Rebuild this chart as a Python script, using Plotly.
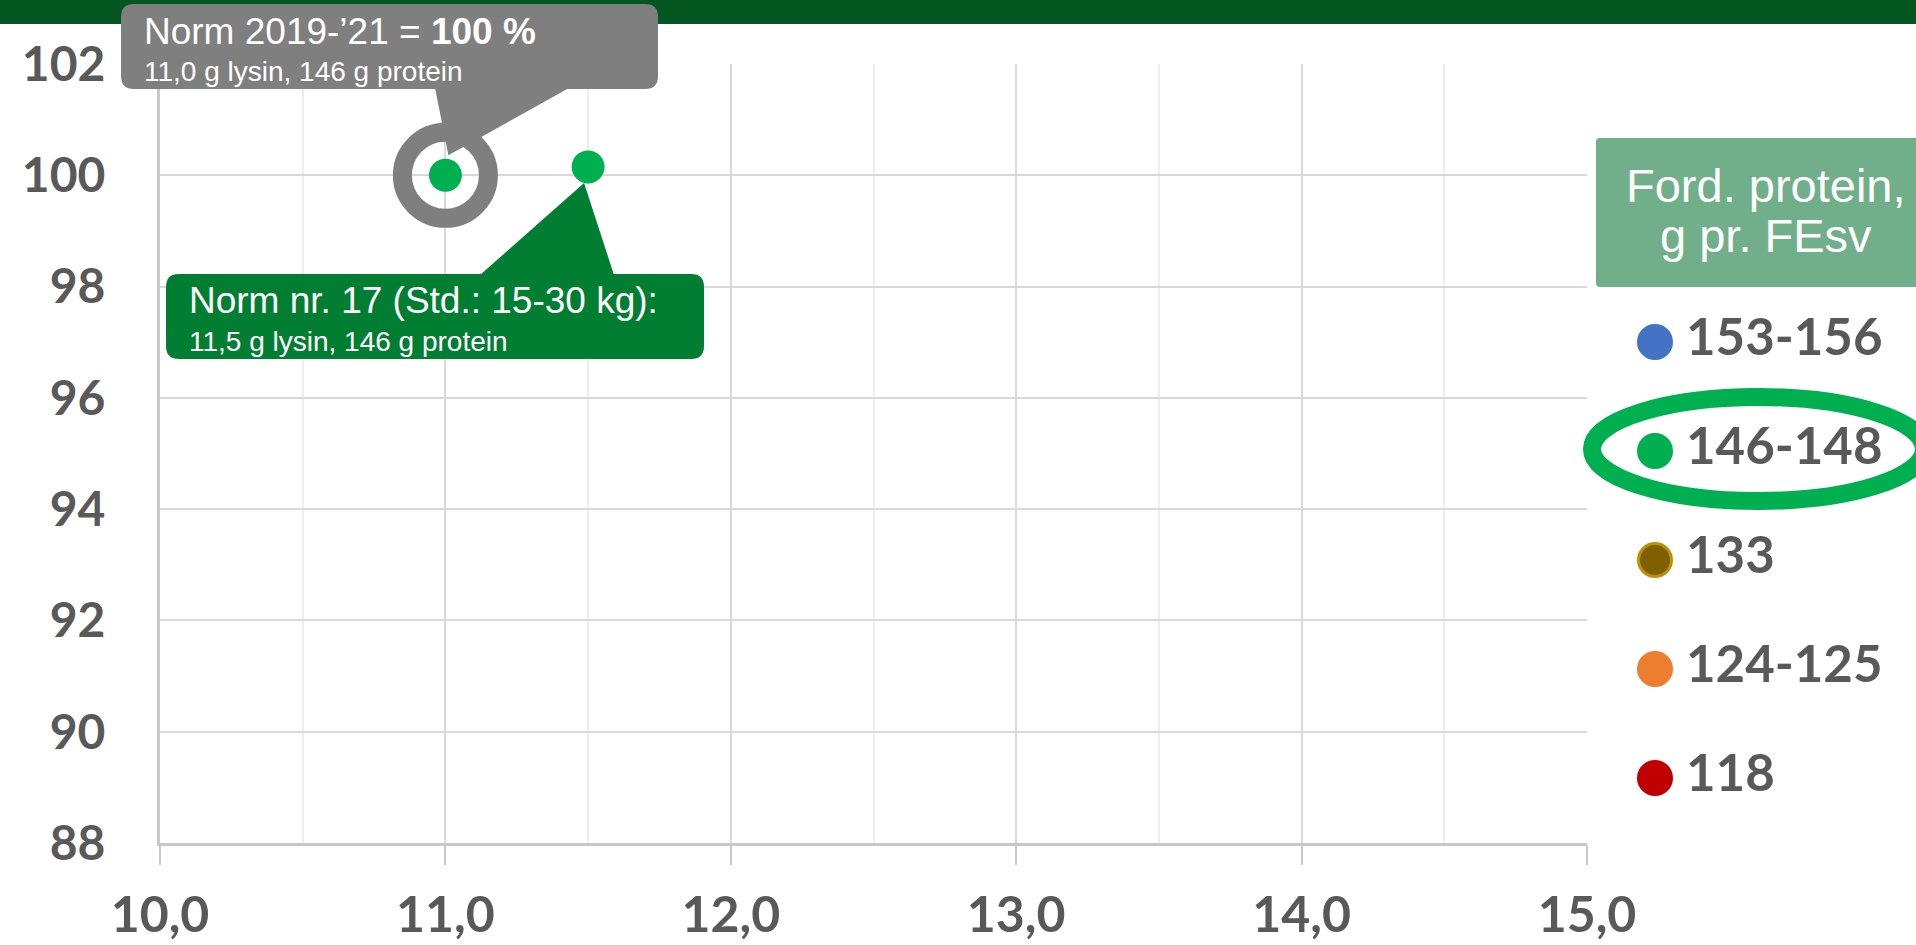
import plotly.graph_objects as go

# ---------------- data ----------------
categories = ["153-156", "146-148", "133", "124-125", "118"]
category_colors = ["#4472C4", "#00B050", "#7F6000", "#ED7D31", "#C00000"]
category_line_colors = ["#4472C4", "#00B050", "#BF9000", "#ED7D31", "#C00000"]

norm_names = ["Norm 2019-’21", "Norm nr. 17"]
lysin = [11.0, 11.5]          # g lysin pr. FEsv
index_pct = [100.0, 100.15]   # relative index (%)
protein = [146, 146]

x_ticks = [10, 11, 12, 13, 14, 15]
x_ticktext = ["10,0", "11,0", "12,0", "13,0", "14,0", "15,0"]
y_ticks = [88, 90, 92, 94, 96, 98, 100, 102]
y_ticktext = ["88", "90", "92", "94", "96", "98", "100", "102"]

legend_title = ["Ford. protein,", "g pr. FEsv"]

# ---------------- geometry ----------------
W, H = 1916, 945
PX0, PX1 = 160, 1587   # plot area x pixels (10 -> 15)
PY0, PY1 = 843, 64     # plot area y pixels (88 -> 102)
XMIN, XMAX = 10, 15
YMIN, YMAX = 88, 102


def fx(px):
    return px / W


def fy(py):
    return 1 - py / H


def dpx(x):
    return PX0 + (x - XMIN) / (XMAX - XMIN) * (PX1 - PX0)


def dpy(y):
    return PY0 - (y - YMIN) / (YMAX - YMIN) * (PY0 - PY1)


def rounded_rect(x0, y0, x1, y1, r):
    p = lambda x, y: f"{fx(x):.5f},{fy(y):.5f}"
    return (f"M {p(x0 + r, y0)} L {p(x1 - r, y0)} Q {p(x1, y0)} {p(x1, y0 + r)} "
            f"L {p(x1, y1 - r)} Q {p(x1, y1)} {p(x1 - r, y1)} "
            f"L {p(x0 + r, y1)} Q {p(x0, y1)} {p(x0, y1 - r)} "
            f"L {p(x0, y0 + r)} Q {p(x0, y0)} {p(x0 + r, y0)} Z")


def triangle(a, b, c):
    p = lambda q: f"{fx(q[0]):.5f},{fy(q[1]):.5f}"
    return f"M {p(a)} L {p(b)} L {p(c)} Z"


fig = go.Figure()

# gray ring around the reference norm
fig.add_trace(go.Scatter(
    x=[lysin[0]], y=[index_pct[0]], mode="markers",
    marker=dict(size=86, color="rgba(0,0,0,0)", line=dict(color="#7F7F7F", width=19)),
    hoverinfo="skip", showlegend=False, cliponaxis=False))

# data points (146-148 group)
fig.add_trace(go.Scatter(
    x=lysin, y=index_pct, mode="markers",
    marker=dict(size=33, color=category_colors[1], line=dict(width=0)),
    text=norm_names, name=categories[1], showlegend=False, cliponaxis=False))

# custom legend drawn on a helper axis pair
LEG_Y0, LEG_STEP = 342, 109
leg_idx = list(range(len(categories)))
fig.add_trace(go.Scatter(
    x=[1655] * len(categories), y=leg_idx, mode="markers",
    marker=dict(size=33, color=category_colors,
                line=dict(color=category_line_colors, width=3)),
    xaxis="x2", yaxis="y2", showlegend=False, hoverinfo="skip", cliponaxis=False))
fig.add_trace(go.Scatter(
    x=[1686] * len(categories), y=leg_idx, mode="text", text=categories,
    textposition="middle right",
    textfont=dict(family="Lato", size=51, color="#595959", weight="bold"),
    xaxis="x2", yaxis="y2", showlegend=False, hoverinfo="skip", cliponaxis=False))

shapes = []
# top banner
shapes.append(dict(type="rect", xref="paper", yref="paper", x0=0, x1=1, y0=fy(24), y1=1,
                   fillcolor="#03561F", line=dict(width=0), layer="above"))

# gray callout
p1x, p1y = dpx(lysin[0]), dpy(index_pct[0])
shapes.append(dict(type="path", xref="paper", yref="paper",
                   path=triangle((435, 88), (569, 88), (p1x + 3, p1y - 20)),
                   fillcolor="#7F7F7F", line=dict(width=0), layer="above"))
shapes.append(dict(type="path", xref="paper", yref="paper",
                   path=rounded_rect(121, 4, 658, 89, 13),
                   fillcolor="#7F7F7F", line=dict(width=0), layer="above"))

# green callout
p2x, p2y = dpx(lysin[1]), dpy(index_pct[1])
shapes.append(dict(type="path", xref="paper", yref="paper",
                   path=triangle((480, 275), (614, 275), (p2x - 4, p2y + 16)),
                   fillcolor="#027E33", line=dict(width=0), layer="above"))
shapes.append(dict(type="path", xref="paper", yref="paper",
                   path=rounded_rect(166, 274, 704, 359, 13),
                   fillcolor="#027E33", line=dict(width=0), layer="above"))

# legend title box
shapes.append(dict(type="path", xref="paper", yref="paper",
                   path=rounded_rect(1596, 138, 1940, 287, 4),
                   fillcolor="#71AE8A", line=dict(width=0), layer="above"))

# highlight ellipse
shapes.append(dict(type="circle", xref="paper", yref="paper",
                   x0=fx(1592), x1=fx(1924), y0=fy(501), y1=fy(397),
                   line=dict(color="#00B050", width=18), fillcolor="rgba(0,0,0,0)", layer="above"))

annotations = []
f_big = dict(family="Liberation Sans", size=37, color="white")
f_small = dict(family="Liberation Sans", size=28, color="white")
annotations.append(dict(xref="paper", yref="paper", x=fx(142), y=fy(31), xanchor="left", yanchor="middle",
                        text=f"{norm_names[0]} = <b>100 %</b>", showarrow=False, font=f_big))
annotations.append(dict(xref="paper", yref="paper", x=fx(142), y=fy(72), xanchor="left", yanchor="middle",
                        text=f"{lysin[0]:.1f}".replace(".", ",") + f" g lysin, {protein[0]} g protein",
                        showarrow=False, font=f_small))
annotations.append(dict(xref="paper", yref="paper", x=fx(187), y=fy(300), xanchor="left", yanchor="middle",
                        text=f"{norm_names[1]} (Std.: 15-30 kg):", showarrow=False, font=f_big))
annotations.append(dict(xref="paper", yref="paper", x=fx(187), y=fy(341), xanchor="left", yanchor="middle",
                        text=f"{lysin[1]:.1f}".replace(".", ",") + f" g lysin, {protein[1]} g protein",
                        showarrow=False, font=f_small))
f_title = dict(family="Liberation Sans", size=47, color="white")
annotations.append(dict(xref="paper", yref="paper", x=fx(1766), y=fy(185), xanchor="center", yanchor="middle",
                        text=legend_title[0], showarrow=False, font=f_title))
annotations.append(dict(xref="paper", yref="paper", x=fx(1766), y=fy(236), xanchor="center", yanchor="middle",
                        text=legend_title[1], showarrow=False, font=f_title))

x_tick_font = dict(family="Lato", size=50, color="#595959", weight="bold")
y_tick_font = dict(family="Lato", size=48, color="#595959", weight="bold")

fig.update_layout(
    width=W, height=H,
    margin=dict(l=0, r=0, t=0, b=0),
    paper_bgcolor="white", plot_bgcolor="rgba(0,0,0,0)",
    showlegend=False,
    shapes=shapes, annotations=annotations,
    xaxis=dict(domain=[fx(PX0), fx(PX1)], range=[XMIN, XMAX], anchor="y",
               tickvals=x_ticks, ticktext=x_ticktext, tickfont=x_tick_font,
               showgrid=True, gridcolor="#D9D9D9", gridwidth=2,
               minor=dict(dtick=0.5, tick0=10, showgrid=True, gridcolor="#EEEEEE", gridwidth=2, ticks=""),
               ticks="outside", ticklen=19, tickwidth=2, tickcolor="#C8C8C8",
               showline=True, linecolor="#C8C8C8", linewidth=3,
               zeroline=False, automargin=False, ticklabelstandoff=7, fixedrange=True),
    yaxis=dict(domain=[fy(PY0), fy(PY1)], range=[YMIN, YMAX], anchor="x",
               tickvals=y_ticks, ticktext=y_ticktext, tickfont=y_tick_font,
               showgrid=True, gridcolor="#D9D9D9", gridwidth=2,
               ticks="", showline=True, linecolor="#C8C8C8", linewidth=3,
               zeroline=False, automargin=False, ticklabelstandoff=42, fixedrange=True),
    xaxis2=dict(domain=[0, 1], range=[0, W], anchor="y2", visible=False, fixedrange=True),
    yaxis2=dict(domain=[0, 1], range=[(H - LEG_Y0) / LEG_STEP, -LEG_Y0 / LEG_STEP], anchor="x2",
                visible=False, fixedrange=True),
)

fig.write_html("out.html", config={"displayModeBar": False},
               post_script="document.body.style.margin='0px';")
